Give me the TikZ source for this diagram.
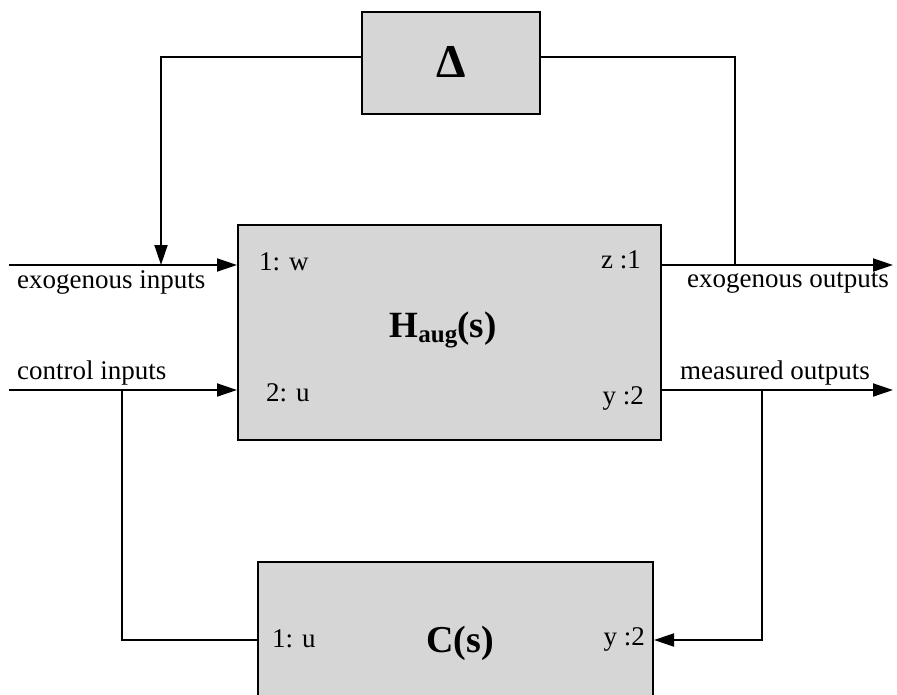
\documentclass[tikz,border=0pt]{standalone}
\usepackage{fontspec}
\setmainfont{Liberation Serif}
\usetikzlibrary{arrows.meta}
\begin{document}
\begin{tikzpicture}[x=1pt,y=-1pt,
  blk/.style={draw=black, line width=2pt, fill=black!16, rectangle, inner sep=0pt},
  wire/.style={line width=1.9pt},
  arr/.style={wire, -{Triangle[length=20pt,width=13pt]}},
  lbl/.style={font=\fontsize{27}{30}\selectfont, inner sep=0pt},
  port/.style={font=\fontsize{27}{30}\selectfont, inner sep=0pt},
]
\useasboundingbox (0,0) rectangle (897,694);
\clip (0,0) rectangle (897,694);
% blocks
\node[blk, minimum width=178pt, minimum height=102pt] (D) at (451,63) {};
\node[blk, minimum width=423pt, minimum height=215pt] (H) at (449.5,332.5) {};
\node[blk, minimum width=395pt, minimum height=156pt] (C) at (455.5,640) {};
% block texts
\node[inner sep=0pt, anchor=base, font=\fontsize{47}{50}\selectfont\bfseries] (Dt) at (451,77) {Δ};
\node[inner sep=0pt, anchor=base, font=\fontsize{37}{40}\selectfont\bfseries] (Ht) at (443,337)
  {H\raisebox{-5pt}{\fontsize{25}{28}\selectfont aug}(s)};
\node[inner sep=0pt, anchor=base, font=\fontsize{38}{40}\selectfont\bfseries] (Ct) at (460,652) {C(s)};
% port labels
\node[port, anchor=base west] (p1w) at (259,270) {1: w};
\node[port, anchor=base east] (pz1) at (641,268) {z :1};
\node[port, anchor=base west] (p2u) at (266,401) {2: u};
\node[port, anchor=base east] (py2) at (644,404) {y :2};
\node[port, anchor=base west] (c1u) at (272,647) {1: u};
\node[port, anchor=base east] (cy2) at (645,645) {y :2};
% signal labels
\node[lbl, anchor=base west] (tEI) at (17,288) {exogenous inputs};
\node[lbl, anchor=base west] (tCI) at (17,379) {control inputs};
\node[lbl, anchor=base west] (tEO) at (687,287) {exogenous outputs};
\node[lbl, anchor=base west] (tMO) at (680,379) {measured outputs};
% coordinates
\coordinate (ein) at (9,265);
\coordinate (jw) at (161,265);
\coordinate (jz) at (735,265);
\coordinate (eout) at (893,265);
\coordinate (cin) at (9,390);
\coordinate (ju) at (122,390);
\coordinate (jy) at (762,390);
\coordinate (mout) at (893,390);
% connectors
\draw[arr] (ein) -- (ein -| H.west);
\draw[arr] ([yshift=6pt]D.west) -| (jw);
\draw[wire] ([yshift=6pt]D.east) -| (jz);
\draw[arr] (H.east |- eout) -- (eout);
\draw[arr] (cin) -- (cin -| H.west);
\draw[wire] (ju) |- (C.west);
\draw[arr] (H.east |- mout) -- (mout);
\draw[arr] (jy) |- (C.east);
\end{tikzpicture}
\end{document}
